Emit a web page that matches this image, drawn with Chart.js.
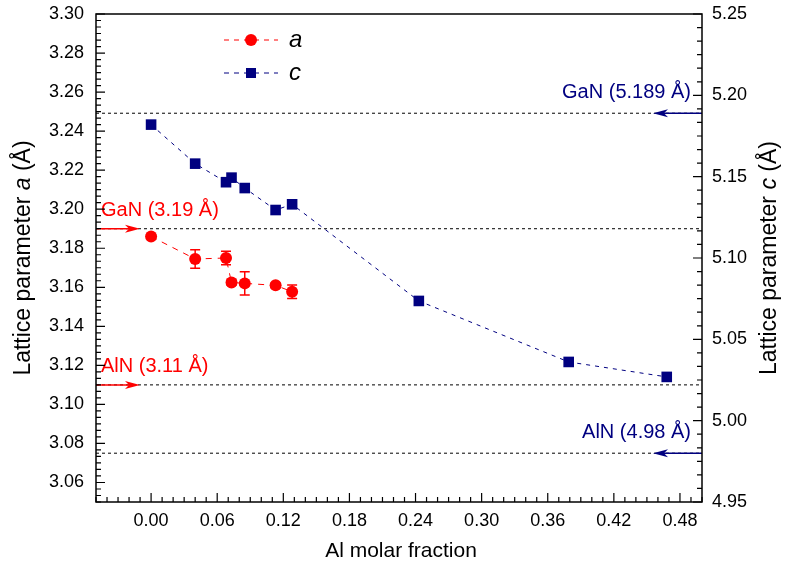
<!DOCTYPE html>
<html lang="en">
<head>
  <meta charset="UTF-8" />
  <title>Lattice parameters vs Al molar fraction</title>
  <script src="https://cdn.jsdelivr.net/npm/chart.js"></script>
  <style>
    body { margin: 0; background: #fff; }
    #wrap { width: 788px; height: 573px; }
  </style>
</head>
<body>
  <div id="wrap"><canvas id="latticeChart" width="788" height="573"></canvas></div>

  <script>
    // Al molar fraction of the samples (a series)
    const alFractionA = [0, 0.040, 0.068, 0.073, 0.085, 0.113, 0.128];
    // lattice parameter a (Å) and its error
    const latticeA = [3.186, 3.1745, 3.175, 3.1625, 3.162, 3.161, 3.1577];
    const latticeAErr = [0.001, 0.0047, 0.0035, 0.0015, 0.006, 0.0012, 0.0035];

    // c series goes further in composition
    const alFractionC = [0, 0.040, 0.068, 0.073, 0.085, 0.113, 0.128, 0.243, 0.379, 0.468];
    const latticeC = [5.182, 5.158, 5.1466, 5.1494, 5.143, 5.1295, 5.133, 5.0736, 5.0361, 5.0269];

    // reference values for the binaries
    const refNames = ['GaN', 'AlN'];
    const refA = [3.19, 3.11];
    const refC = [5.189, 4.98];

    // tick labels
    const xTicks = [0, 0.06, 0.12, 0.18, 0.24, 0.30, 0.36, 0.42, 0.48];
    const aTicks = [3.06, 3.08, 3.10, 3.12, 3.14, 3.16, 3.18, 3.20, 3.22, 3.24, 3.26, 3.28, 3.30];
    const cTicks = [4.95, 5.00, 5.05, 5.10, 5.15, 5.20, 5.25];

    const RED = '#ff0000';
    const NAVY = '#000080';
    const FONT = '"Liberation Sans", Arial, sans-serif';

    Chart.defaults.font.family = FONT;
    Chart.defaults.color = '#000';

    function toPoints(xs, ys) {
      return xs.map((x, i) => ({ x: x, y: ys[i] }));
    }

    function fixTicks(list) {
      return function (scale) { scale.ticks = list.map(v => ({ value: v })); };
    }

    // fixed box size, no extra label padding so the plot frame sits where we want it
    function fixWidth(w) {
      return function (scale) { scale.width = w; scale.paddingTop = 0; scale.paddingBottom = 0; };
    }

    function drawArrow(ctx, x0, x1, y, color) {
      const dir = Math.sign(x1 - x0);
      ctx.save();
      ctx.setLineDash([]);
      ctx.strokeStyle = color;
      ctx.fillStyle = color;
      ctx.lineWidth = 1.5;
      ctx.beginPath();
      ctx.moveTo(x0, y);
      ctx.lineTo(x1 - dir * 10, y);
      ctx.stroke();
      ctx.beginPath();
      ctx.moveTo(x1, y);
      ctx.lineTo(x1 - dir * 15, y - 4);
      ctx.lineTo(x1 - dir * 11, y);
      ctx.lineTo(x1 - dir * 15, y + 4);
      ctx.closePath();
      ctx.fill();
      ctx.restore();
    }

    // inward ticks, 5 minor ticks between majors (origin style)
    function drawAxisTicks(ctx, scale, major, side, area) {
      const minor = major / 6;
      const k0 = Math.ceil(scale.min / minor - 1e-6);
      const k1 = Math.floor(scale.max / minor + 1e-6);
      ctx.beginPath();
      for (let k = k0; k <= k1; k++) {
        const p = scale.getPixelForValue(k * minor);
        const len = (k % 6 === 0) ? 9 : 5;
        if (side === 'bottom') { ctx.moveTo(p, area.bottom); ctx.lineTo(p, area.bottom - len); }
        if (side === 'left') { ctx.moveTo(area.left, p); ctx.lineTo(area.left + len, p); }
        if (side === 'right') { ctx.moveTo(area.right, p); ctx.lineTo(area.right - len, p); }
      }
      ctx.stroke();
    }

    function drawMixedText(ctx, parts, size, x, y, angle) {
      ctx.save();
      ctx.translate(x, y);
      ctx.rotate(angle);
      ctx.textBaseline = 'middle';
      ctx.textAlign = 'left';
      let total = 0;
      parts.forEach(p => {
        ctx.font = (p[1] ? 'italic ' : '') + size + 'px ' + FONT;
        total += ctx.measureText(p[0]).width;
      });
      let cx = -total / 2;
      parts.forEach(p => {
        ctx.font = (p[1] ? 'italic ' : '') + size + 'px ' + FONT;
        ctx.fillText(p[0], cx, 0);
        cx += ctx.measureText(p[0]).width;
      });
      ctx.restore();
    }

    const decorPlugin = {
      id: 'decor',
      beforeDatasetsDraw(chart) {
        const ctx = chart.ctx;
        const area = chart.chartArea;
        const ya = chart.scales.y;
        const yc = chart.scales.y1;
        const xs = chart.scales.x;

        // dashed reference lines
        ctx.save();
        ctx.strokeStyle = '#000';
        ctx.lineWidth = 1;
        ctx.setLineDash([3, 3]);
        ctx.beginPath();
        refA.forEach(v => { const p = ya.getPixelForValue(v); ctx.moveTo(area.left, p); ctx.lineTo(area.right, p); });
        refC.forEach(v => { const p = yc.getPixelForValue(v); ctx.moveTo(area.left, p); ctx.lineTo(area.right, p); });
        ctx.stroke();
        ctx.restore();

        // arrows + labels
        ctx.save();
        ctx.font = '20px ' + FONT;
        refA.forEach((v, i) => {
          const p = ya.getPixelForValue(v);
          drawArrow(ctx, area.left, area.left + 44, p, RED);
          ctx.fillStyle = RED;
          ctx.textAlign = 'left';
          ctx.textBaseline = 'alphabetic';
          ctx.fillText(refNames[i] + ' (' + v.toFixed(2) + ' Å)', area.left + 5, p - 13);
        });
        refC.forEach((v, i) => {
          const p = yc.getPixelForValue(v);
          drawArrow(ctx, area.right, area.right - 49, p, NAVY);
          ctx.fillStyle = NAVY;
          ctx.textAlign = 'right';
          ctx.textBaseline = 'alphabetic';
          ctx.fillText(refNames[i] + ' (' + String(v) + ' Å)', area.right - 11, p - 15);
        });
        ctx.restore();

        // error bars on a
        ctx.save();
        ctx.strokeStyle = RED;
        ctx.lineWidth = 1.5;
        ctx.beginPath();
        alFractionA.forEach((x, i) => {
          const px = xs.getPixelForValue(x);
          const top = ya.getPixelForValue(latticeA[i] + latticeAErr[i]);
          const bot = ya.getPixelForValue(latticeA[i] - latticeAErr[i]);
          ctx.moveTo(px, top); ctx.lineTo(px, bot);
          ctx.moveTo(px - 5, top); ctx.lineTo(px + 5, top);
          ctx.moveTo(px - 5, bot); ctx.lineTo(px + 5, bot);
        });
        ctx.stroke();
        ctx.restore();
      },
      afterDraw(chart) {
        const ctx = chart.ctx;
        const area = chart.chartArea;

        // frame and ticks
        ctx.save();
        ctx.strokeStyle = '#000';
        ctx.lineWidth = 1.5;
        ctx.setLineDash([]);
        ctx.strokeRect(area.left, area.top, area.right - area.left, area.bottom - area.top);
        ctx.lineWidth = 1.2;
        drawAxisTicks(ctx, chart.scales.x, 0.06, 'bottom', area);
        drawAxisTicks(ctx, chart.scales.y, 0.02, 'left', area);
        drawAxisTicks(ctx, chart.scales.y1, 0.05, 'right', area);
        ctx.restore();

        // axis titles
        ctx.save();
        ctx.fillStyle = '#000';
        drawMixedText(ctx, [['Al molar fraction', false]], 21, (area.left + area.right) / 2 + 2, 551, 0);
        const midY = (area.top + area.bottom) / 2;
        drawMixedText(ctx, [['Lattice parameter ', false], ['a', true], [' (Å)', false]], 23, 24, midY, -Math.PI / 2);
        drawMixedText(ctx, [['Lattice parameter ', false], ['c', true], [' (Å)', false]], 23, 770, midY, -Math.PI / 2);
        ctx.restore();

        // legend
        ctx.save();
        const rows = [40, 73];
        chart.data.datasets.forEach((ds, i) => {
          const y = rows[i];
          ctx.strokeStyle = ds.borderColor;
          ctx.lineWidth = 1;
          ctx.setLineDash([5, 5]);
          ctx.beginPath();
          ctx.moveTo(224, y); ctx.lineTo(278, y);
          ctx.stroke();
          ctx.setLineDash([]);
          ctx.fillStyle = ds.borderColor;
          ctx.beginPath();
          if (ds.pointStyle === 'circle') ctx.arc(251, y, 6, 0, Math.PI * 2);
          else ctx.rect(246, y - 5, 10, 10);
          ctx.fill();
          ctx.fillStyle = '#000';
          ctx.font = 'italic 24px ' + FONT;
          ctx.textAlign = 'left';
          ctx.textBaseline = 'middle';
          ctx.fillText(ds.label, 289, y);
        });
        ctx.restore();
      }
    };

    const ctx = document.getElementById('latticeChart').getContext('2d');
    new Chart(ctx, {
      type: 'scatter',
      data: {
        datasets: [
          {
            label: 'a',
            data: toPoints(alFractionA, latticeA),
            yAxisID: 'y',
            showLine: true,
            borderColor: RED,
            backgroundColor: RED,
            borderWidth: 1,
            borderDash: [6, 6],
            pointStyle: 'circle',
            pointRadius: 6,
            pointBorderWidth: 0,
            pointBackgroundColor: RED
          },
          {
            label: 'c',
            data: toPoints(alFractionC, latticeC),
            yAxisID: 'y1',
            showLine: true,
            borderColor: NAVY,
            backgroundColor: NAVY,
            borderWidth: 1,
            borderDash: [4, 5],
            tension: 0,
            pointStyle: 'rect',
            pointRadius: 7.5,
            pointBorderWidth: 0,
            pointBackgroundColor: NAVY
          }
        ]
      },
      options: {
        responsive: false,
        animation: false,
        layout: { padding: { top: 14, left: 0, right: 0, bottom: 0 } },
        plugins: { legend: { display: false }, tooltip: { enabled: false } },
        scales: {
          x: {
            type: 'linear',
            min: -0.05,
            max: 0.50,
            afterBuildTicks: fixTicks(xTicks),
            afterFit(scale) { scale.height = 71; scale.paddingLeft = 0; scale.paddingRight = 0; },
            grid: { display: false, drawTicks: false },
            border: { display: false },
            ticks: { font: { size: 18 }, padding: 8, maxRotation: 0, callback: v => v.toFixed(2) }
          },
          y: {
            type: 'linear',
            position: 'left',
            min: 3.05,
            max: 3.30,
            afterBuildTicks: fixTicks(aTicks),
            afterFit: fixWidth(96),
            grid: { display: false, drawTicks: false },
            border: { display: false },
            ticks: { font: { size: 18 }, padding: 12, callback: v => v.toFixed(2) }
          },
          y1: {
            type: 'linear',
            position: 'right',
            min: 4.95,
            max: 5.25,
            afterBuildTicks: fixTicks(cTicks),
            afterFit: fixWidth(86),
            grid: { display: false, drawTicks: false },
            border: { display: false },
            ticks: { font: { size: 18 }, padding: 10, callback: v => v.toFixed(2) }
          }
        }
      },
      plugins: [decorPlugin]
    });
  </script>
</body>
</html>
